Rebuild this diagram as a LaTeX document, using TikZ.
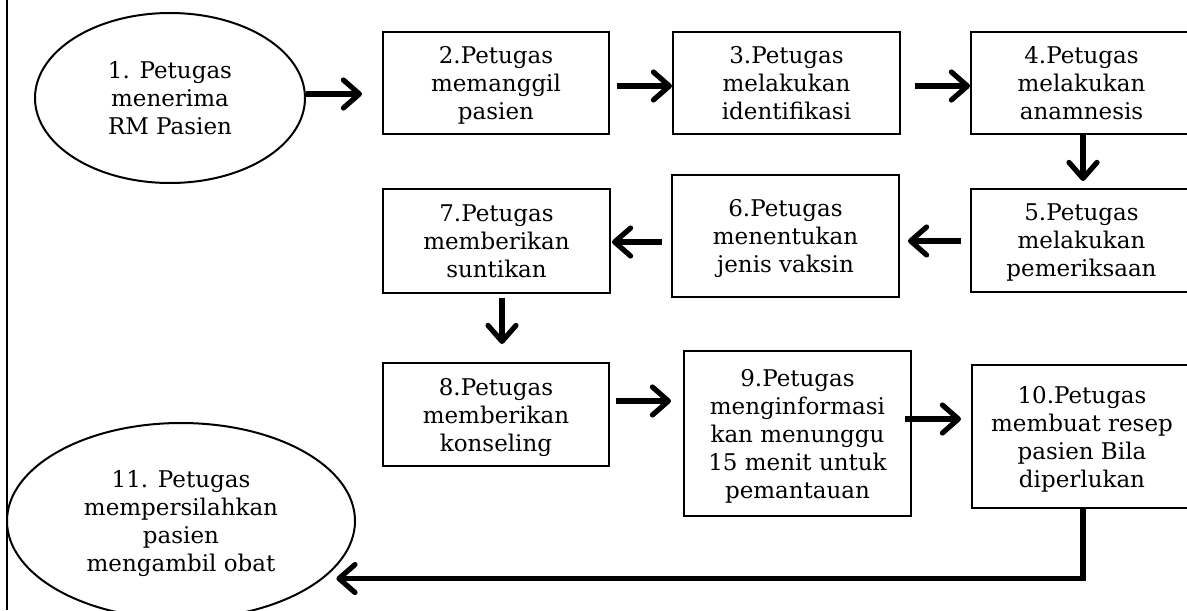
\documentclass[tikz,border=0pt]{standalone}
\usepackage{fontspec}
\setmainfont{DejaVu Serif}
\usetikzlibrary{shapes.geometric,arrows.meta}
\tikzset{
  txt/.style={align=center, font=\fontsize{11.5pt}{14pt}\selectfont, text=black, text depth=-3pt},
  box/.style={txt, draw, line width=1pt, rectangle, inner sep=0pt},
  oval/.style={txt, draw, line width=1pt, ellipse, inner sep=0pt},
  arr/.style={line width=2.6pt, -{Straight Barb[length=8pt,width=14pt,line cap=round,line join=round]}},
  border/.style={line width=1pt}
}
\begin{document}
\begin{tikzpicture}[x=0.5pt,y=-0.5pt]
\useasboundingbox (0,0) rectangle (1187,610);
\draw[border] (7,0) -- (7,610);

\node[oval, minimum width=135pt, minimum height=85pt] (e1) at (170,98) {1. Petugas\\menerima\\RM Pasien};
\node[box, minimum width=113pt, minimum height=51pt] (b2) at (496,83) {2.Petugas\\memanggil\\pasien};
\node[box, minimum width=113.5pt, minimum height=51pt] (b3) at (786.5,83) {3.Petugas\\melakukan\\identifikasi};
\node[box, minimum width=110.5pt, minimum height=51pt] (b4) at (1081.5,83) {4.Petugas\\melakukan\\anamnesis};
\node[box, minimum width=110.5pt, minimum height=51.5pt] (b5) at (1081.5,240.5) {5.Petugas\\melakukan\\pemeriksaan};
\node[box, minimum width=113.5pt, minimum height=61pt] (b6) at (785.5,236) {6.Petugas\\menentukan\\jenis vaksin};
\node[box, minimum width=113.5pt, minimum height=52pt] (b7) at (496.5,241) {7.Petugas\\memberikan\\suntikan};
\node[box, minimum width=113pt, minimum height=51.5pt] (b8) at (496,414.5) {8.Petugas\\memberikan\\konseling};
\node[box, minimum width=113.5pt, minimum height=82.5pt] (b9) at (797.5,433.5) {9.Petugas\\menginformasi\\kan menunggu\\15 menit untuk\\pemantauan};
\node[box, minimum width=110pt, minimum height=71.5pt] (b10) at (1082,436.5) {10.Petugas\\membuat resep\\pasien Bila\\diperlukan};
\node[oval, minimum width=174pt, minimum height=98pt] (e11) at (181,521) {11. Petugas\\mempersilahkan\\pasien\\mengambil obat};

\draw[arr, shorten >=10pt] (e1.east |- 0,94) -- (b2.west |- 0,94);
\draw[arr, shorten <=3.5pt] (b2.east |- 0,86) -- (b3.west |- 0,86);
\draw[arr, shorten <=7pt] (b3.east |- 0,86) -- (b4.west |- 0,86);
\draw[arr, shorten >=3.5pt] (1083,0 |- b4.south) -- (1083,0 |- b5.north);
\draw[arr, shorten <=4.5pt, shorten >=4pt] (b5.west |- 0,241) -- (b6.east |- 0,241);
\draw[arr, shorten <=4.5pt, shorten >=0.5pt] (b6.west |- 0,242) -- (b7.east |- 0,242);
\draw[arr, shorten <=2pt, shorten >=9pt] (502,0 |- b7.south) -- (502,0 |- b8.north);
\draw[arr, shorten <=3pt, shorten >=6pt] (b8.east |- 0,401) -- (b9.west |- 0,401);
\draw[arr, shorten <=-3.5pt, shorten >=5pt] (b9.east |- 0,419) -- (b10.west |- 0,419);
\draw[arr, shorten >=6.5pt] (1083,0 |- b10.south) |- (e11.-22);
\end{tikzpicture}
\end{document}
